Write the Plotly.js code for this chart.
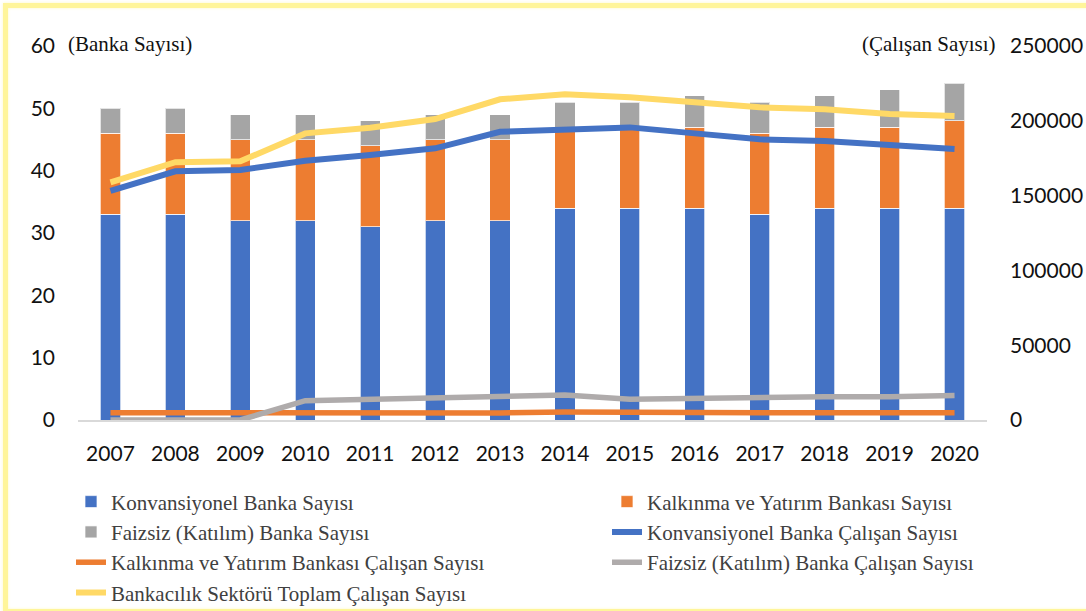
<!DOCTYPE html>
<html>
<head>
<meta charset="utf-8">
<script src="https://cdn.plot.ly/plotly-3.0.1.min.js"></script>
<style>
  html, body { margin: 0; padding: 0; background: #fff; overflow: hidden; }
  #wrap { position: relative; width: 1086px; height: 611px; overflow: hidden; }
  #chart { width: 1086px; height: 611px; }
  #frame { position: absolute; left: 3px; top: 3px; width: 1100px; height: 601px;
           border: 5px solid #FFF59A; box-shadow: 0 0 3px #FFF9C4, inset 0 0 3px #FFF9C4;
           pointer-events: none; }
</style>
</head>
<body>
<div id="wrap">
  <div id="chart"></div>
  <div id="frame"></div>
</div>
<script>
const years = ["2007","2008","2009","2010","2011","2012","2013","2014","2015","2016","2017","2018","2019","2020"];

// Bank counts (left axis)
const konvBanka    = [33, 33, 32, 32, 31, 32, 32, 34, 34, 34, 33, 34, 34, 34];
const kalkBanka    = [13, 13, 13, 13, 13, 13, 13, 13, 13, 13, 13, 13, 13, 14];
const faizBanka    = [ 4,  4,  4,  4,  4,  4,  4,  4,  4,  5,  5,  5,  6,  6];

// Employee counts (right axis)
const konvCalisan  = [153100, 166200, 167100, 173300, 177100, 181600, 192700, 194300, 195600, 191600, 187600, 186500, 183600, 181100];
const kalkCalisan  = [4900, 4900, 4900, 4500, 4000, 4200, 4700, 5300, 4900, 4900, 4900, 4900, 4900, 4900];
const faizCalisan  = [0, 0, 0, 12900, 13800, 15100, 16500, 16700, 13800, 14500, 15100, 15600, 15600, 16300];
const toplamCalisan= [158900, 172300, 172900, 191600, 195400, 201200, 214400, 217700, 215700, 212100, 209000, 207700, 204500, 203200];

const names = [
  "Konvansiyonel Banka Sayısı",
  "Kalkınma ve Yatırım Bankası Sayısı",
  "Faizsiz (Katılım) Banka Sayısı",
  "Konvansiyonel Banka Çalışan Sayısı",
  "Kalkınma ve Yatırım Bankası Çalışan Sayısı",
  "Faizsiz (Katılım) Banka Çalışan Sayısı",
  "Bankacılık Sektörü Toplam Çalışan Sayısı"
];
const C = { blue: "#4472C4", orange: "#ED7D31", grey: "#A5A5A5", greyLine: "#AFABAB", yellow: "#FFD966" };

const barLine = { color: "rgba(255,255,255,0.7)", width: 1 };
const traces = [
  { type: "bar", x: years, y: konvBanka, name: names[0], legend: "legend", marker: { color: C.blue, line: barLine } },
  { type: "bar", x: years, y: kalkBanka, name: names[1], legend: "legend2", marker: { color: C.orange, line: barLine } },
  { type: "bar", x: years, y: faizBanka, name: names[2], legend: "legend", marker: { color: C.grey, line: barLine } },
  { type: "scatter", mode: "lines", x: years, y: konvCalisan, yaxis: "y2", name: names[3], legend: "legend2", line: { color: C.blue, width: 6 } },
  { type: "scatter", mode: "lines", x: years, y: kalkCalisan, yaxis: "y2", name: names[4], legend: "legend", line: { color: C.orange, width: 5.5 } },
  { type: "scatter", mode: "lines", x: years, y: faizCalisan, yaxis: "y2", name: names[5], legend: "legend2", line: { color: C.greyLine, width: 5.5 } },
  { type: "scatter", mode: "lines", x: years, y: toplamCalisan, yaxis: "y2", name: names[6], legend: "legend", line: { color: C.yellow, width: 6 } }
];

const tickFont = { family: "Lato, 'Open Sans', sans-serif", size: 21, color: "#111" };
const serif = "'Liberation Serif', 'Times New Roman', serif";
const legendBase = {
  orientation: "v", xref: "container", yref: "container",
  xanchor: "left", y: 0.212, yanchor: "top",
  font: { family: serif, size: 21, color: "#404040" },
  traceorder: "normal", bgcolor: "rgba(0,0,0,0)", tracegroupgap: 0
};

const layout = {
  width: 1086, height: 611,
  margin: { l: 77.5, r: 98.5, t: 46, b: 191, autoexpand: false },
  paper_bgcolor: "#fff", plot_bgcolor: "#fff",
  barmode: "stack", bargap: 0.69,
  showlegend: true,
  xaxis: {
    type: "category", showgrid: false, zeroline: false, automargin: false,
    showline: true, linecolor: "#D9D9D9", linewidth: 1.5,
    ticks: "", tickfont: tickFont, ticklabelstandoff: 14, tickangle: 0
  },
  yaxis: {
    range: [0, 60], dtick: 10, showgrid: false, zeroline: false, showline: false, automargin: false,
    ticks: "", tickfont: tickFont, ticklabelstandoff: 22
  },
  yaxis2: {
    overlaying: "y", side: "right", range: [0, 250000], dtick: 50000, automargin: false,
    showgrid: false, zeroline: false, showline: false,
    ticks: "", tickfont: tickFont, ticklabelstandoff: 22, tickformat: "d"
  },
  legend: Object.assign({}, legendBase, { x: 71 / 1086 }),
  legend2: Object.assign({}, legendBase, { x: 607 / 1086 }),
  annotations: [
    { xref: "paper", yref: "paper", x: (65 - 77.5) / 910, y: (420 - 44) / 374, xanchor: "left", yanchor: "middle",
      text: "(Banka Sayısı)", showarrow: false, font: { family: serif, size: 21, color: "#111" } },
    { xref: "paper", yref: "paper", x: (999 - 77.5) / 910, y: (420 - 44) / 374, xanchor: "right", yanchor: "middle",
      text: "(Çalışan Sayısı)", showarrow: false, font: { family: serif, size: 21, color: "#111" } }
  ]
};

Plotly.newPlot("chart", traces, layout, { displayModeBar: false, staticPlot: true });
</script>
</body>
</html>
